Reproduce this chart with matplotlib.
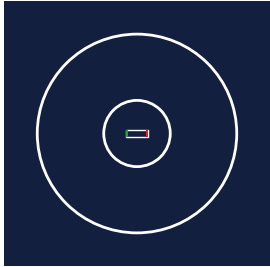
import matplotlib
matplotlib.use('Agg')
import matplotlib.pyplot as plt
from matplotlib.patches import Circle, Rectangle

# mat markings (metres)
circle_radii = [4.5, 1.5]
box_width = 1.0
box_height = 0.36
corner_colors = ['#1e9e3e', '#e8202a']   # left / right starting marks

bg = '#121f3f'

fig = plt.figure(figsize=(2.70, 2.67), dpi=100)
ax = fig.add_axes([4 / 270, 1 / 267, 266 / 270, 265 / 267])
ax.set_facecolor(bg)
ax.set_xlim(-6, 6)
ax.set_ylim(-6, 6)
ax.set_aspect('auto')
ax.axis('off')
ax.add_patch(Rectangle((-6, -6), 12, 12, color=bg, zorder=0))

for r in circle_radii:
    ax.add_patch(Circle((0, 0), r, fill=False, ec='white', lw=2.0, zorder=2))

# centre box with coloured ends
ax.add_patch(Rectangle((-box_width / 2, -box_height / 2), box_width, box_height,
                       fill=False, ec='white', lw=1.0, zorder=3))
end_w = 0.11
ax.add_patch(Rectangle((-box_width / 2, -box_height / 2), end_w, box_height,
                       color=corner_colors[0], lw=0, zorder=4))
ax.add_patch(Rectangle((box_width / 2 - end_w, -box_height / 2), end_w, box_height,
                       color=corner_colors[1], lw=0, zorder=4))

plt.savefig('out.png', dpi=100, facecolor='white')
